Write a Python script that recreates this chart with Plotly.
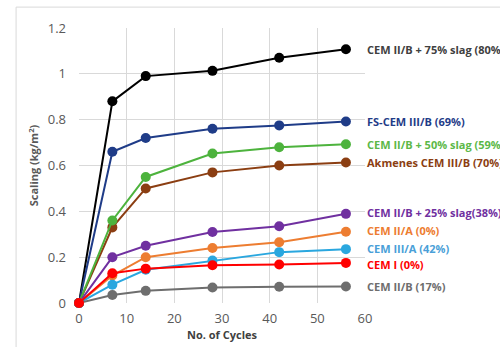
import plotly.graph_objects as go

cycles = [0, 7, 14, 28, 42, 56]
names = ["CEM II/B + 75% slag (80%)", "FS-CEM III/B (69%)", "CEM II/B + 50% slag (59%)",
         "Akmenes CEM III/B (70%)", "CEM II/B + 25% slag(38%)", "CEM II/A (0%)",
         "CEM III/A (42%)", "CEM I (0%)", "CEM II/B (17%)"]
black = [0, 0.88, 0.99, 1.013, 1.07, 1.107]
navy = [0, 0.66, 0.72, 0.76, 0.775, 0.792]
green = [0, 0.36, 0.55, 0.652, 0.68, 0.693]
brown = [0, 0.33, 0.50, 0.57, 0.60, 0.613]
purple = [0, 0.20, 0.25, 0.31, 0.335, 0.389]
orange = [0, 0.12, 0.20, 0.24, 0.265, 0.311]
lightblue = [0, 0.08, 0.145, 0.185, 0.222, 0.235]
red = [0, 0.13, 0.15, 0.165, 0.168, 0.175]
grey = [0, 0.035, 0.053, 0.068, 0.071, 0.072]
series = [black, navy, green, brown, purple, orange, lightblue, red, grey]
colors = ["#000000", "#1f3c88", "#4db33d", "#8b3e12", "#7030a0", "#ed7d31", "#2aa7df", "#ff0000", "#6e6e6e"]
label_colors = ["#404040", "#1f3c88", "#5cb848", "#8b3e12", "#7030a0", "#ed7d31", "#4a9fd8", "#ff0000", "#6e6e6e"]
label_y = [1.107, 0.792, 0.693, 0.613, 0.395, 0.317, 0.24, 0.168, 0.072]

fig = go.Figure()
order = [0, 1, 3, 2, 4, 5, 6, 8, 7]
for i in order:
    fig.add_trace(go.Scatter(x=cycles, y=series[i], mode="lines+markers", name=names[i],
                             line=dict(color=colors[i], width=2),
                             marker=dict(color=colors[i], size=10), cliponaxis=False))

for i in range(len(names)):
    fig.add_annotation(x=60, y=label_y[i], xref="x", yref="y", text="<b>" + names[i] + "</b>",
                       showarrow=False, xanchor="left", xshift=0,
                       font=dict(color=label_colors[i], size=11, family="Open Sans"))

fig.add_shape(type="rect", xref="paper", yref="paper", x0=-0.22, y0=-0.3, x1=1.6, y1=1.076,
              line=dict(color="#d9d9d9", width=1), layer="below")

fig.update_layout(
    width=500, height=347,
    margin=dict(l=79, r=135, t=28, b=44),
    paper_bgcolor="white", plot_bgcolor="white",
    showlegend=False,
    font=dict(family="Open Sans", color="#595959", size=12),
    xaxis=dict(range=[0, 60], dtick=10, showgrid=True, gridcolor="#d9d9d9", zeroline=False,
               showline=False, ticks="", automargin=False, ticklabelstandoff=6,
               tickfont=dict(size=13, color="#595959"),
               title=dict(text="<b>No. of Cycles</b>", font=dict(size=11, color="#404040"), standoff=2)),
    yaxis=dict(range=[0, 1.2], dtick=0.2, showgrid=True, gridcolor="#d9d9d9", zeroline=False,
               showline=False, ticks="", automargin=False, ticklabelstandoff=12,
               tickfont=dict(size=13, color="#595959"),
               tickvals=[0, 0.2, 0.4, 0.6, 0.8, 1.0, 1.2],
               ticktext=["0", "0.2", "0.4", "0.6", "0.8", "1", "1.2"],
               title=dict(text="<b>Scaling (kg/m<sup>2</sup>)</b>", font=dict(size=11, color="#595959"), standoff=6)),
)
fig.write_html("out.html", config={"displayModeBar": False},
               post_script="document.body.style.margin='0';document.body.style.overflow='hidden';")
